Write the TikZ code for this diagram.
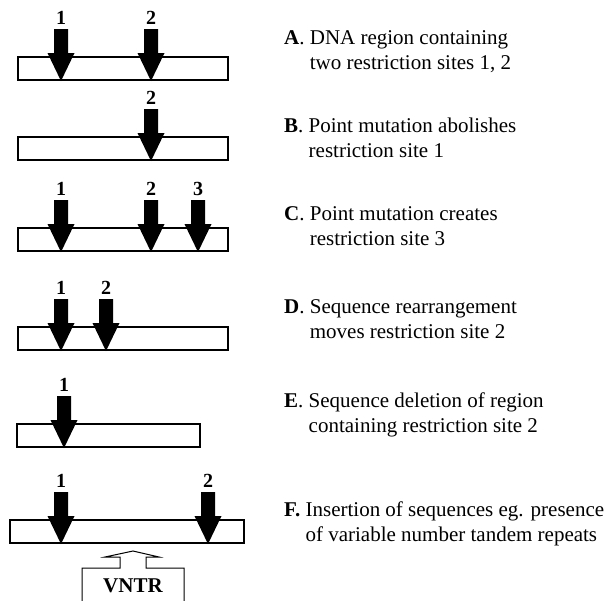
\documentclass[tikz,border=0pt]{standalone}
\usepackage{fontspec}
\setmainfont{Liberation Serif}
\tikzset{
  bar/.style={draw, line width=1.2pt, fill=white, minimum height=23pt, inner sep=0pt},
  sitenum/.style={font=\bfseries\fontsize{20}{20}\selectfont, inner sep=0pt},
  caption/.style={anchor=west, align=left, inner sep=0pt, font=\fontsize{21}{25}\selectfont},
}
% black cut-site arrow: x, top of bar, number
\newcommand{\cutsite}[3]{
  \fill ({#1-7},{#2-28}) -- ({#1+7},{#2-28}) -- ({#1+7},{#2-4}) -- ({#1+13.5},{#2-4})
     -- (#1,{#2+24}) -- ({#1-13.5},{#2-4}) -- ({#1-7},{#2-4}) -- cycle;
  \node[sitenum] (s#1x#2) at (#1,{#2-39}) {#3};
}
\begin{document}
\begin{tikzpicture}[x=1pt, y=-1pt]
\useasboundingbox (0,0) rectangle (610,600);

% DNA regions
\foreach \r/\a/\b/\t in {A/18/228/57, B/18/228/137, C/18/228/228, D/18/228/327, E/17/200/424, F/10/244/520}
{
    \node[bar, minimum width={\b-\a}] (bar\r) at ({(\a+\b)/2},{\t+11.5}) {};
}

% restriction sites
\foreach \x/\t/\n in {61/57/1, 151/57/2, 151/137/2, 61/228/1, 151/228/2, 198/228/3,
                      61/327/1, 106/327/2, 64/424/1, 61/520/1, 208/520/2}
{
    \cutsite{\x}{\t}{\n}
}

% captions
\node[caption] (capA) at (284,51.5) {\textbf{A}. DNA region containing\\\phantom{\textbf{A}. }two restriction sites 1, 2};
\node[caption] (capB) at (284,138) {\textbf{B}. Point mutation abolishes\\\phantom{\textbf{B}. }restriction site 1};
\node[caption] (capC) at (284,226.5) {\textbf{C}. Point mutation creates\\\phantom{\textbf{C}. }restriction site 3};
\node[caption] (capD) at (284,319) {\textbf{D}. Sequence rearrangement\\\phantom{\textbf{D}. }moves restriction site 2};
\node[caption] (capE) at (284,414.5) {\textbf{E}. Sequence deletion of region\\\phantom{\textbf{E}. }containing restriction site 2};
\node[caption] (capF) at (284,524) {\textbf{F.} Insertion of sequences eg. presence\\\phantom{\textbf{F.} }of variable number tandem repeats};

% inserted repeats
\node[font=\bfseries\fontsize{21}{21}\selectfont, inner sep=0pt] (vntr) at (133,586) {VNTR};
\draw[line width=1pt] (82,606) -- (82,568) -- (120,568) -- (120,557) -- (105,557) -- (133,551)
    -- (159,557) -- (146,557) -- (146,568) -- (184,568) -- (184,606);

\end{tikzpicture}
\end{document}
